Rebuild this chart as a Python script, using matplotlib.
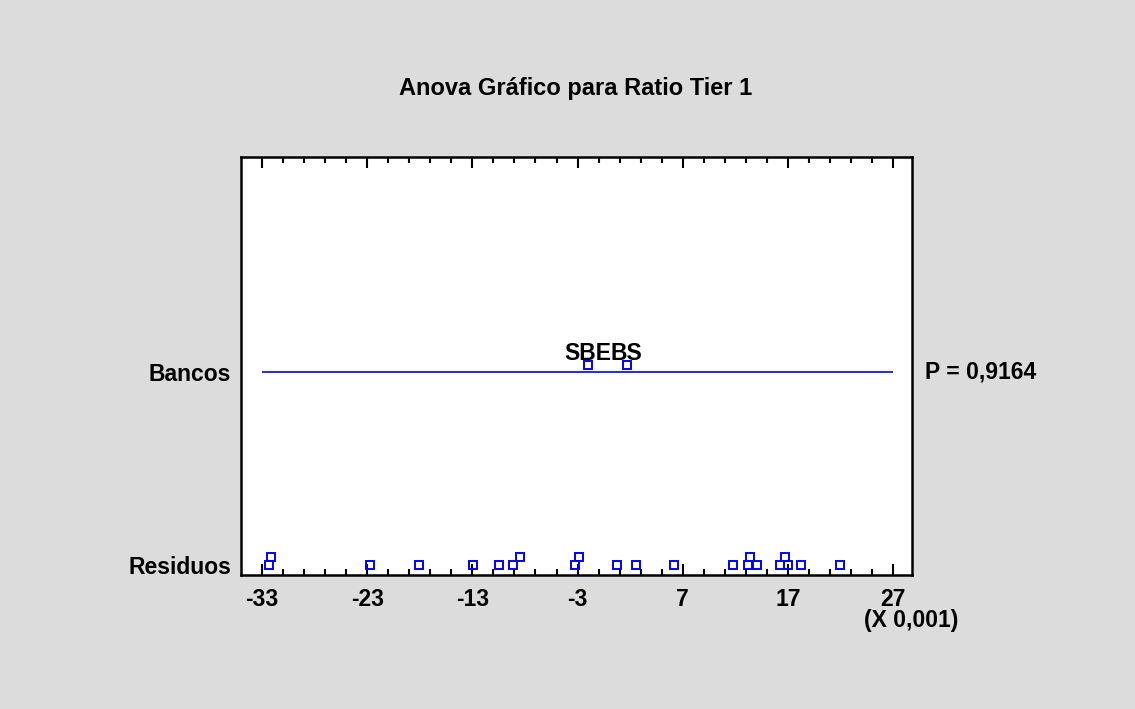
import matplotlib.pyplot as plt
from matplotlib.ticker import FixedLocator

plt.rcParams['font.family'] = ['Liberation Sans', 'DejaVu Sans']

# group means (x 0,001) and residuals
group_names = ['SBE', 'BS']
group_means = [-1.98, 1.67]
residuals = [-32.3, -32.1, -22.7, -18.1, -12.95, -10.5, -9.15, -8.5,
             -3.2, -2.85, 0.75, 2.55, 6.15, 11.75, 13.2, 13.4, 14.05,
             16.25, 16.7, 17.0, 18.25, 21.95]
row_labels = ['Residuos', 'Bancos']
p_text = 'P = 0,9164'
x_min, x_max = -33, 27

blue = '#0000FF'
bg = '#DCDCDC'
fs = 16.5

fig = plt.figure(figsize=(11.35, 7.09), dpi=100, facecolor=bg)
ax = fig.add_axes([241 / 1135, 1 - 575 / 709, 671 / 1135, 418 / 709])
ax.set_facecolor('white')

ax.set_xlim(-35.0, 28.8)
ax.set_ylim(-0.052, 2.114)

# stack residuals that overlap
thr = 0.7
levels = []
last = {}
for v in sorted(residuals):
    lv = 0
    while lv in last and v - last[lv] < thr:
        lv += 1
    last[lv] = v
    levels.append(lv)
step = 0.041
ax.plot(sorted(residuals), [lv * step for lv in levels], 's', ms=5.8,
        mfc='none', mec=blue, mew=1.4, clip_on=False)

# Bancos row
ax.hlines(1, x_min, x_max, color=blue, lw=1.2)
ax.plot(group_means, [1.036] * len(group_means), 's', ms=5.8,
        mfc='none', mec=blue, mew=1.4)
for name, m in zip(group_names, group_means):
    ax.text(m, 1.062, name, ha='center', va='baseline', fontsize=fs,
            fontweight='bold')

ax.set_yticks([0, 1])
ax.set_yticklabels(row_labels, fontsize=fs, fontweight='bold')
ax.tick_params(axis='y', length=0, pad=7)

ax.set_xticks(range(x_min, x_max + 1, 10))
ax.xaxis.set_minor_locator(FixedLocator(range(x_min, x_max + 1, 2)))
ax.set_xticklabels([str(t) for t in range(x_min, x_max + 1, 10)],
                   fontsize=fs, fontweight='bold')
ax.tick_params(axis='x', which='both', direction='in', top=True,
               width=1.5, pad=9)
ax.tick_params(axis='x', which='major', length=8)
ax.tick_params(axis='x', which='minor', length=4)

for s in ax.spines.values():
    s.set_linewidth(1.8)

ax.text(1.02, 1, p_text, transform=ax.get_yaxis_transform(), ha='left',
        va='center', fontsize=fs, fontweight='bold')
fig.text(911 / 1135, 1 - 620 / 709, '(X 0,001)', ha='center', va='center',
         fontsize=fs, fontweight='bold')
fig.text(576 / 1135, 1 - 89 / 709, 'Anova Gráfico para Ratio Tier 1',
         ha='center', va='center', fontsize=17, fontweight='bold')

fig.savefig('out.png', dpi=100, facecolor=bg)
